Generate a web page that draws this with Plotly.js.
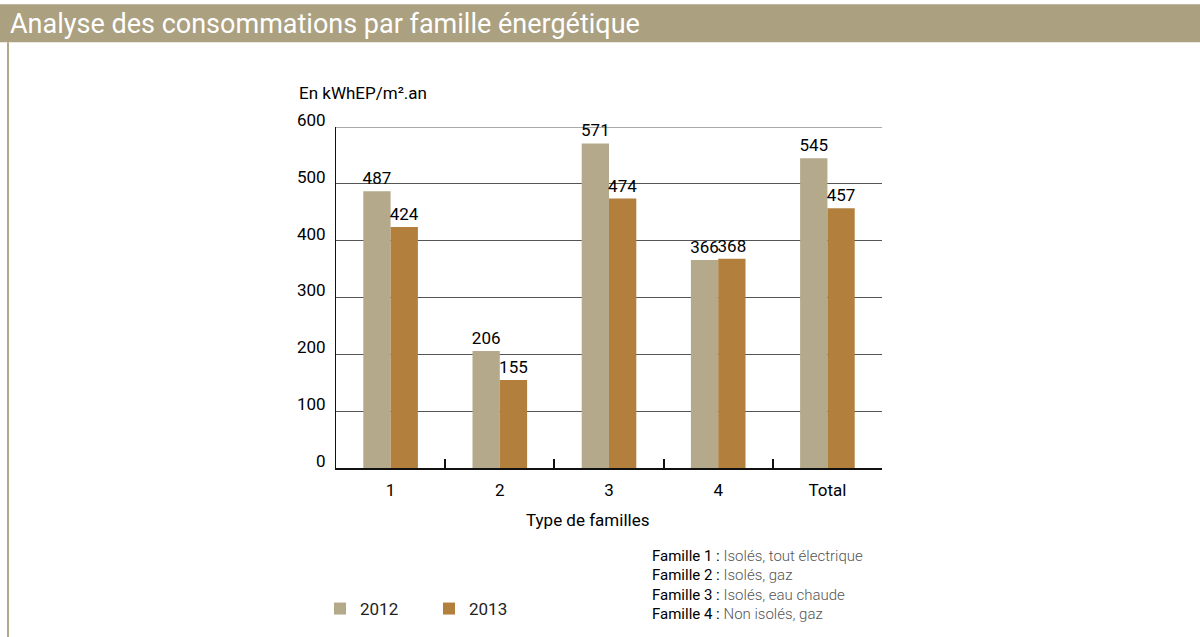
<!DOCTYPE html>
<html>
<head>
<meta charset="utf-8">
<script src="https://cdn.plot.ly/plotly-3.0.1.min.js"></script>
<style>html,body{margin:0;padding:0;background:#fff;}#chart{width:1200px;height:637px;}</style>
</head>
<body>
<div id="chart"></div>
<script>
const categories = ["1", "2", "3", "4", "Total"];
const values2012 = [487, 206, 571, 366, 545];
const values2013 = [424, 155, 474, 368, 457];
const seriesNames = ["2012", "2013"];
const yTicks = [0, 100, 200, 300, 400, 500, 600];
const noteLabels = ["Famille 1 :", "Famille 2 :", "Famille 3 :", "Famille 4 :"];
const noteTexts = ["Isolés, tout électrique", "Isolés, gaz", "Isolés, eau chaude", "Non isolés, gaz"];

const FONT = "Roboto, 'DejaVu Sans', sans-serif";
const W = 1200, H = 637;
const L = 336, R = 882, T = 127, B = 469;
const px = x => (x - L) / (R - L);
const py = y => (B - y) / (B - T);

const labelFont = {family: FONT, size: 17, color: "#000"};

const traces = [
  {type: "bar", name: seriesNames[0], x: categories, y: values2012,
   marker: {color: "#b5a98b"}, text: values2012.map(String), textposition: "outside",
   constraintext: "none", textfont: labelFont, cliponaxis: false, hoverinfo: "x+y"},
  {type: "bar", name: seriesNames[1], x: categories, y: values2013,
   marker: {color: "#b27f3c"}, text: values2013.map(String), textposition: "outside",
   constraintext: "none", textfont: labelFont, cliponaxis: false, hoverinfo: "x+y"}
];

const annotations = [
  {text: "En kWhEP/m².an", xref: "paper", yref: "paper", x: px(297), y: py(93),
   xanchor: "left", yanchor: "middle", showarrow: false, font: {family: FONT, size: 17, color: "#000"}},
  {text: "Type de familles", xref: "paper", yref: "paper", x: px(587), y: py(521),
   xanchor: "center", yanchor: "middle", showarrow: false, font: {family: FONT, size: 17, color: "#000"}}
];
const noteY = [557, 576, 596, 615];
noteLabels.forEach((lab, i) => {
  annotations.push({
    text: "<span style='color:#000'>" + lab + "</span> <span style='font-weight:300;color:#555'>" + noteTexts[i] + "</span>",
    xref: "paper", yref: "paper", x: px(650), y: py(noteY[i]),
    xanchor: "left", yanchor: "middle", showarrow: false, align: "left",
    font: {family: FONT, size: 15, color: "#222"}
  });
});

const shapes = [
  {type: "rect", xref: "paper", yref: "paper", x0: px(0), x1: px(1200), y0: py(4), y1: py(42),
   fillcolor: "#aba080", line: {width: 0}, layer: "below"},
  {type: "line", xref: "paper", yref: "paper", x0: px(8), x1: px(8), y0: py(42), y1: py(640),
   line: {color: "#b3a88a", width: 2}},
  {type: "line", xref: "paper", yref: "y", x0: 0, x1: 1, y0: 600, y1: 600,
   line: {color: "#555", width: 1}, layer: "below"}
];

const layout = {
  width: W, height: H,
  margin: {l: L, r: W - R, t: T, b: H - B, pad: 0},
  paper_bgcolor: "#fff", plot_bgcolor: "#fff",
  title: {text: "Analyse des consommations par famille énergétique", xref: "container", yref: "container",
          x: 10 / W, xanchor: "left", y: 1 - 24 / H, yanchor: "middle",
          font: {family: FONT, size: 27, color: "#fff"}},
  barmode: "group", bargap: 0.5, bargroupgap: 0,
  showlegend: true,
  legend: {orientation: "h", x: px(320), y: py(609), xanchor: "left", yanchor: "middle",
           font: {family: FONT, size: 17, color: "#222"}, entrywidth: 64, entrywidthmode: "pixels",
           itemwidth: 30, traceorder: "normal"},
  xaxis: {type: "category", showline: true, linecolor: "#111", linewidth: 2,
          ticks: "inside", tickson: "boundaries", ticklen: 9, tickwidth: 2, tickcolor: "#111",
          showgrid: false, ticklabelstandoff: 6,
          tickfont: {family: FONT, size: 17, color: "#000"}, fixedrange: true},
  yaxis: {range: [0, 600], tickvals: yTicks, ticktext: yTicks.map(String), showline: true, linecolor: "#111",
          linewidth: 1, showgrid: true, gridcolor: "#555", gridwidth: 1, zeroline: false, ticks: "",
          ticklabelshift: -7, ticklabelstandoff: 6,
          tickfont: {family: FONT, size: 17, color: "#000"}, fixedrange: true},
  annotations: annotations,
  shapes: shapes
};

Plotly.newPlot("chart", traces, layout, {displayModeBar: false, staticPlot: true});
</script>
</body>
</html>
